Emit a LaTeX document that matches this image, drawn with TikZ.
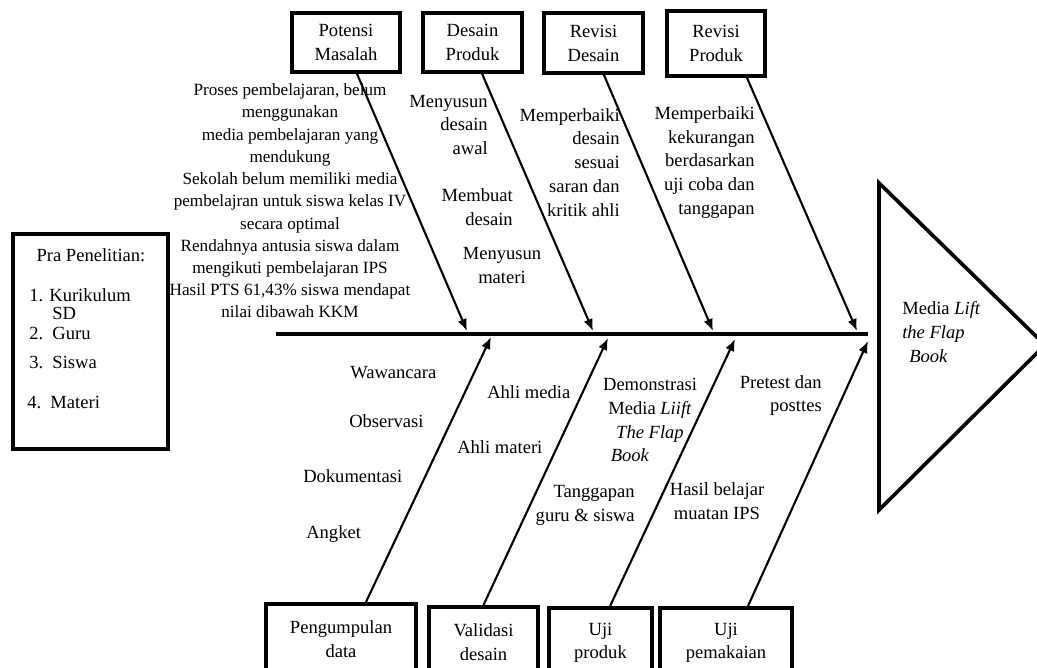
\documentclass[tikz,border=0pt]{standalone}
\usepackage{fontspec}
\setmainfont{Liberation Serif}
\usetikzlibrary{arrows.meta,positioning,calc}
\definecolor{ink}{HTML}{000000}
\tikzset{
  box/.style={rectangle,draw=ink,line width=2.6pt,align=center,text=ink,
              font=\fontsize{13.2}{17}\selectfont,inner sep=0pt},
  txt/.style={text=ink,font=\fontsize{13.2}{17}\selectfont,inner sep=0pt},
  small/.style={txt,font=\fontsize{12.2}{15.8}\selectfont},
  fl/.style={-{Latex[length=3mm,width=2.4mm]},line width=1.5pt,draw=ink},
  spine/.style={line width=2.2pt,draw=ink},
  head/.style={line width=2.6pt,draw=ink,line join=miter},
}

\begin{document}
\begin{tikzpicture}[x=0.025cm,y=-0.025cm]
\useasboundingbox (0,0) rectangle (1037,668);
\fill[white] (0,0) rectangle (1037,668);
% kepala
\draw[head] (879,183) -- (1045,345) -- (879,510) -- cycle;
\node[txt,align=left,anchor=west] (goal) at (902,332) {Media \textit{Lift}\\\textit{the Flap}\\\hspace{5pt}\textit{Book}};
% tulang utama
\coordinate (s0) at (276,334);
\coordinate (s1) at (868,334);
\draw[spine] (s0) -- (s1);
% kotak atas
\node[box,minimum width=2.7cm,minimum height=1.475cm] (pm) at (346,42.5) {Potensi\\Masalah};
\node[box,minimum width=2.475cm,minimum height=1.475cm] (dp) at (472.5,42.5) {Desain\\Produk};
\node[box,minimum width=2.475cm,minimum height=1.5cm] (rd) at (593.5,43) {Revisi\\Desain};
\node[box,minimum width=2.45cm,minimum height=1.625cm] (rp) at (716,43.5) {Revisi\\Produk};
\coordinate (t1) at (467,331);
\coordinate (t2) at (593,331);
\coordinate (t3) at (713,331);
\coordinate (t4) at (857,331);
\draw[fl] ([xshift=0.275cm]pm.south) -- (t1);
\draw[fl] ([xshift=0.24cm]dp.south) -- (t2);
\draw[fl] ([xshift=0.26cm]rd.south) -- (t3);
\draw[fl] ([xshift=0.775cm]rp.south) -- (t4);
% kotak bawah
\node[box,anchor=north,minimum width=3.75cm,minimum height=1.75cm] (pd) at (341,602) {Pengumpulan\\data};
\node[box,anchor=north,minimum width=2.725cm,minimum height=1.75cm] (vd) at (483.5,605) {Validasi\\desain};
\node[box,anchor=north,minimum width=2.575cm,minimum height=1.75cm] (up) at (600.5,606) {Uji\\produk};
\node[box,anchor=north,minimum width=3.3cm,minimum height=1.75cm] (uk) at (726,606) {Uji\\pemakaian};
\coordinate (b1) at (491,337);
\coordinate (b2) at (608,338);
\coordinate (b3) at (735,339);
\coordinate (b4) at (868,341);
\draw[fl] ([xshift=0.625cm]pd.north) -- (b1);
\draw[fl] (vd.north) -- (b2);
\draw[fl] ([xshift=0.24cm]up.north) -- (b3);
\draw[fl] ([xshift=0.55cm]uk.north) -- (b4);
% pra penelitian
\node[box,minimum width=3.875cm,minimum height=5.375cm] (pra) at (90.5,341.5) {};
\node[txt] (prat) at (91,255) {Pra Penelitian:};
\node[txt,anchor=west] (n1) at (29,295) {1. Kurikulum};
\node[txt,anchor=west] (n1b) at (52,313) {SD};
\node[txt,anchor=west] (n2) at (29,333) {2.\ \ Guru};
\node[txt,anchor=west] (n3) at (29,362) {3.\ \ Siswa};
\node[txt,anchor=west] (n4) at (27,402) {4.\ \ Materi};
% teks atas
\node[small,align=center] (ma) at (290,201) {Proses pembelajaran, belum\\menggunakan\\media pembelajaran yang\\mendukung\\Sekolah belum memiliki media\\pembelajran untuk siswa kelas IV\\secara optimal\\Rendahnya antusia siswa dalam\\mengikuti pembelajaran IPS\\Hasil PTS 61,43\% siswa mendapat\\nilai dibawah KKM};
\node[txt,align=right,anchor=east] (da) at (488,125) {Menyusun\\desain\\awal};
\node[txt,align=right,anchor=east] (db) at (513,207.5) {Membuat\\desain};
\node[txt,align=center] (dc) at (502,265.5) {Menyusun\\materi};
\node[txt,align=right,anchor=east] (ra) at (620,162.5) {Memperbaiki\\desain\\sesuai\\saran dan\\kritik ahli};
\node[txt,align=right,anchor=east] (rb) at (755,162.5) {Memperbaiki\\kekurangan\\berdasarkan\\uji coba dan\\tanggapan};
% teks bawah
\node[txt,anchor=west] (pa) at (350,373) {Wawancara};
\node[txt,anchor=west] (pb) at (349,421) {Observasi};
\node[txt,anchor=west] (pc) at (303,476) {Dokumentasi};
\node[txt,anchor=west] (pe) at (306,534) {Angket};
\node[txt,anchor=west] (va) at (487,392) {Ahli media};
\node[txt,anchor=west] (vb) at (457,447) {Ahli materi};
\node[txt,align=center] (ua) at (650,420) {Demonstrasi\\Media \textit{Liift}\\\textit{The Flap}\\\textit{Book}\hspace{1cm}\mbox{}};
\node[txt,align=right,anchor=east] (ub) at (635,505.5) {Tanggapan\\guru \& siswa};
\node[txt,align=right,anchor=east] (ka) at (822,395.5) {Pretest dan\\posttes};
\node[txt,align=center] (kb) at (717,501) {Hasil belajar\\muatan IPS};
\end{tikzpicture}
\end{document}
